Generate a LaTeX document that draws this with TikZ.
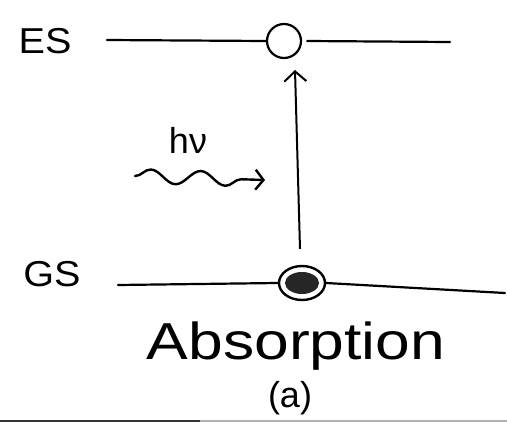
\documentclass[tikz,border=0pt]{standalone}
\usepackage{fontspec}
\setmainfont{Liberation Sans}
\usetikzlibrary{decorations.pathmorphing,arrows.meta,shapes.geometric}
\begin{document}
\begin{tikzpicture}[x=1pt,y=-1pt,
  level/.style={line width=2.2pt,line cap=round},
  lbl/.style={inner sep=0pt,font=\fontsize{36}{40}\selectfont},
  big/.style={inner sep=0pt,font=\fontsize{52}{56}\selectfont}]
\useasboundingbox (0,0) rectangle (507,424);
\fill[white] (0,0) rectangle (507,424);
% labels
\node[lbl,xscale=1.1] (es) at (45,41) {ES};
\node[lbl,xscale=1.1] (gs) at (52,274) {GS};
% excited state
\node[draw,circle,line width=2.2pt,minimum size=34pt,inner sep=0pt] (ex) at (284,41) {};
\coordinate (esL) at (107,40);
\coordinate (esR) at (450,42);
\draw[level] (esL) -- (ex.west);
\draw[level] (ex.east) ++(5,0) -- (esR);
% ground state
\node[draw,ellipse,line width=2.4pt,fill=white,minimum width=46pt,minimum height=34pt,inner sep=0pt] (gr) at (302,283) {};
\fill[black!85] (gr.center) ellipse (17pt and 11pt);
\coordinate (gsL) at (118,285);
\coordinate (gsR) at (505,293);
\draw[level] (gsL) -- (gr.west);
\draw[level] (gr.east) -- (gsR);
% transition arrow
\coordinate (arrTop) at (295,70);
\draw[line width=2pt,-{Straight Barb[length=10pt,width=22pt]}] (gr.north) ++(-2,-16) -- (arrTop);
% photon
\node[lbl,font=\fontsize{36}{40}\selectfont] (hv) at (188,140) {hν};
\coordinate (phS) at (135,176);
\coordinate (phE) at (265,180);
\draw[line width=2.4pt,line cap=round,decorate,decoration={snake,amplitude=7pt,segment length=50pt},-{Straight Barb[length=8pt,width=20pt]}] (phS) -- (phE);
% caption
\node[big,xscale=1.2] (abs) at (296,346) {Absorption};
\node[lbl] (cap) at (290,398) {(a)};
% page edge
\coordinate (edgeL) at (0,421);
\coordinate (edgeR) at (507,421);
\draw[line width=2.5pt,black!80] (edgeL) -- (200,421);
\draw[line width=1.5pt,black!30] (200,421) -- (edgeR);
\end{tikzpicture}
\end{document}
